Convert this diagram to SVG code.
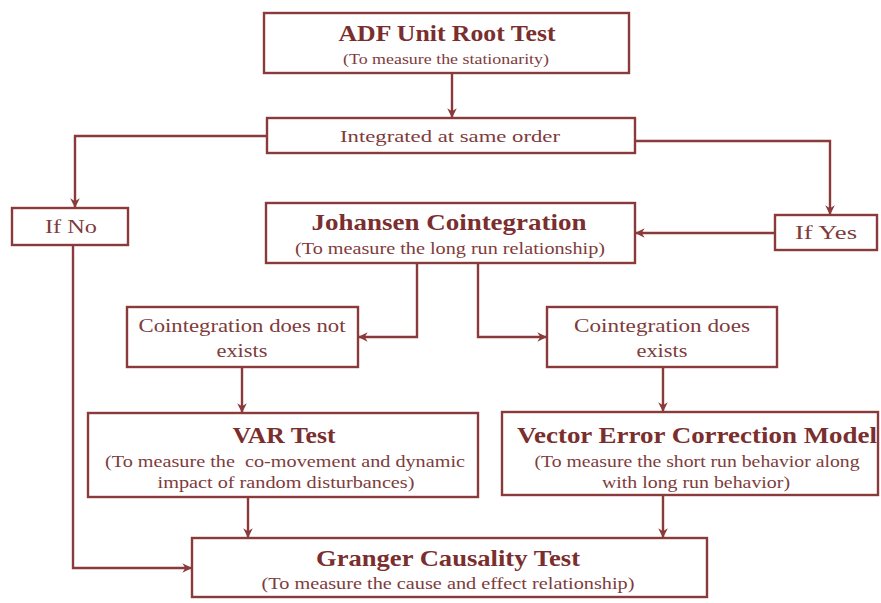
<svg xmlns="http://www.w3.org/2000/svg" width="881" height="603" viewBox="0 0 881 603">
<style>
.box{fill:#ffffff;stroke:#8a3a3a;stroke-width:2.4}
.ln{fill:none;stroke:#8a3a3a;stroke-width:2.4}
.t{font-family:"Liberation Serif","Times New Roman",serif;font-weight:bold;fill:#7a2e2e;text-anchor:middle}
.s{font-family:"Liberation Serif","Times New Roman",serif;fill:#7e3c3c;text-anchor:middle}
</style>
<defs>
<marker id="ah" viewBox="0 0 10 10" refX="9" refY="5" markerWidth="4" markerHeight="4" orient="auto" markerUnits="strokeWidth">
<path d="M0,0 L10,5 L0,10 L3,5 Z" fill="#8a3a3a"/>
</marker>
</defs>
<rect width="881" height="603" fill="#ffffff"/>
<g id="connectors">
<path class="ln" d="M452,74 V117" marker-end="url(#ah)"/>
<path class="ln" d="M267,136 H75 V207" marker-end="url(#ah)"/>
<path class="ln" d="M635,141 H830 V214" marker-end="url(#ah)"/>
<path class="ln" d="M775,233 H636" marker-end="url(#ah)"/>
<path class="ln" d="M417,263 V337 H359" marker-end="url(#ah)"/>
<path class="ln" d="M478,263 V337 H546" marker-end="url(#ah)"/>
<path class="ln" d="M242,367 V412" marker-end="url(#ah)"/>
<path class="ln" d="M663,367 V411" marker-end="url(#ah)"/>
<path class="ln" d="M248,497 V537" marker-end="url(#ah)"/>
<path class="ln" d="M663,495 V537" marker-end="url(#ah)"/>
<path class="ln" d="M73,245 V568 H191" marker-end="url(#ah)"/>
</g>
<g id="adf">
<rect class="box" x="264" y="13" width="365" height="60"/>
<text class="t" x="447" y="41" font-size="24" textLength="217" lengthAdjust="spacingAndGlyphs">ADF Unit Root Test</text>
<text class="s" x="446" y="64" font-size="15" textLength="206" lengthAdjust="spacingAndGlyphs">(To measure the stationarity)</text>
</g>
<g id="integrated">
<rect class="box" x="267" y="118" width="368" height="35"/>
<text class="s" x="450" y="142" font-size="17" textLength="220" lengthAdjust="spacingAndGlyphs">Integrated at same order</text>
</g>
<g id="ifno">
<rect class="box" x="12" y="208" width="116" height="37"/>
<text class="s" x="71" y="233" font-size="18" textLength="52" lengthAdjust="spacingAndGlyphs">If No</text>
</g>
<g id="ifyes">
<rect class="box" x="775" y="215" width="102" height="35"/>
<text class="s" x="826" y="239" font-size="18" textLength="62" lengthAdjust="spacingAndGlyphs">If Yes</text>
</g>
<g id="johansen">
<rect class="box" x="266" y="203" width="369" height="60"/>
<text class="t" x="449" y="230" font-size="24" textLength="275" lengthAdjust="spacingAndGlyphs">Johansen Cointegration</text>
<text class="s" x="450" y="254" font-size="16" textLength="310" lengthAdjust="spacingAndGlyphs">(To measure the long run relationship)</text>
</g>
<g id="coint-not">
<rect class="box" x="127" y="307" width="231" height="60"/>
<text class="s" x="242" y="332" font-size="18" textLength="207" lengthAdjust="spacingAndGlyphs">Cointegration does not</text>
<text class="s" x="242" y="357" font-size="18" textLength="51" lengthAdjust="spacingAndGlyphs">exists</text>
</g>
<g id="coint-does">
<rect class="box" x="547" y="307" width="230" height="60"/>
<text class="s" x="662" y="332" font-size="18" textLength="176" lengthAdjust="spacingAndGlyphs">Cointegration does</text>
<text class="s" x="662" y="357" font-size="18" textLength="51" lengthAdjust="spacingAndGlyphs">exists</text>
</g>
<g id="var">
<rect class="box" x="88" y="413" width="390" height="84"/>
<text class="t" x="284" y="443" font-size="23" textLength="103" lengthAdjust="spacingAndGlyphs">VAR Test</text>
<text class="s" x="285" y="467" font-size="17" textLength="360" lengthAdjust="spacingAndGlyphs" xml:space="preserve">(To measure the  co-movement and dynamic</text>
<text class="s" x="286" y="488" font-size="17" textLength="257" lengthAdjust="spacingAndGlyphs">impact of random disturbances)</text>
</g>
<g id="vecm">
<rect class="box" x="502" y="412" width="376" height="83"/>
<text class="t" x="697" y="443" font-size="23" textLength="360" lengthAdjust="spacingAndGlyphs">Vector Error Correction Model</text>
<text class="s" x="697" y="467" font-size="17" textLength="325" lengthAdjust="spacingAndGlyphs">(To measure the short run behavior along</text>
<text class="s" x="696" y="488" font-size="17" textLength="188" lengthAdjust="spacingAndGlyphs">with long run behavior)</text>
</g>
<g id="granger">
<rect class="box" x="192" y="538" width="515" height="59"/>
<text class="t" x="448" y="566" font-size="23" textLength="264" lengthAdjust="spacingAndGlyphs">Granger Causality Test</text>
<text class="s" x="448" y="589" font-size="16" textLength="373" lengthAdjust="spacingAndGlyphs">(To measure the cause and effect relationship)</text>
</g>
</svg>
